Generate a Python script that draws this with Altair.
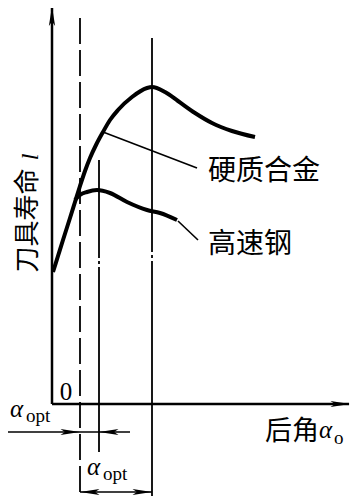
import altair as alt
import pandas as pd

# ---- data (rake angle in degrees, tool life in arbitrary units) ----
carbide_x = [0.2, 1.2, 2.2, 3.6, 4.6, 5.6, 6.6, 7.6, 8.8, 10.2, 11.6, 13.2, 16.0, 19.0, 20.0, 22.6, 25.2, 28.6, 32.0, 36.0, 40.6]
carbide_y = [33, 37, 41, 46.5, 50.5, 54.5, 58.25, 61.5, 64.75, 68, 71, 73.5, 76.75, 79, 79.25, 78, 75.75, 72.75, 70.25, 68.25, 66.75]
hss_x = [4.6, 5.6, 7.0, 9.0, 11.6, 15.0, 19.0, 21.6, 25.0]
hss_y = [51, 52.25, 53, 53.5, 52.75, 50.5, 48.5, 47.75, 46]

ref_x = [5.6, 9.4, 20.0]          # dashed ref line, HSS optimum, carbide optimum
ref_top = [96.5, 61.0, 91.5]
ref_bottom = [-25, -12, -25]

leader_x = [10.2, 25.2]
leader_y = [68, 45.75]
leader_x2 = [29.0, 29.2]
leader_y2 = [59.0, 41.0]
labels = ["硬质合金", "高速钢"]
label_x = [31.2, 31.2]
label_y = [58.1, 39.75]

# y-axis title, one character per entry (rotated, stacked bottom to top)
ytitle_chars = ["刀", "具", "寿", "命"]
ytitle_y = [36.15, 42.65, 49.15, 55.65]

X_DOM = [-8.8, 59.8]
Y_DOM = [-23, 99]

xs = alt.Scale(domain=X_DOM, nice=False, zero=False)
ys = alt.Scale(domain=Y_DOM, nice=False, zero=False)


def X(f="x"):
    return alt.X(f"{f}:Q", scale=xs, axis=None)


def Y(f="y"):
    return alt.Y(f"{f}:Q", scale=ys, axis=None)


ARROW = "M 0 0 L -2 -0.32 L -1.55 0 L -2 0.32 Z"

carbide = pd.DataFrame({"x": carbide_x, "y": carbide_y})
hss = pd.DataFrame({"x": hss_x, "y": hss_y})

curve_c = alt.Chart(carbide).mark_line(color="black", strokeWidth=4, interpolate="monotone").encode(x=X(), y=Y())
curve_h = alt.Chart(hss).mark_line(color="black", strokeWidth=4, interpolate="monotone").encode(x=X(), y=Y())

# axes lines
axes_df = pd.DataFrame({"x": [0, 0], "y": [0, 0], "x2": [0, 59.4], "y2": [99.2, 0]})
axes = alt.Chart(axes_df).mark_rule(color="black", strokeWidth=2.5).encode(
    x=X(), y=Y(), x2="x2:Q", y2="y2:Q")

heads_df = pd.DataFrame({
    "x": [0, 59.6, 5.6, 9.4, 20.0, 5.6],
    "y": [99.4, 0, -7, -7, -22, -22],
    "a": [270, 0, 0, 180, 0, 180],
})
heads = alt.Chart(heads_df).mark_point(shape=ARROW, filled=True, color="black", size=380, opacity=1,
                                       strokeWidth=0).encode(
    x=X(), y=Y(), angle=alt.Angle("a:Q", scale=None))

# reference vertical lines
ref0 = alt.Chart(pd.DataFrame({"x": [ref_x[0]], "y": [ref_top[0]], "y2": [ref_bottom[0]]})).mark_rule(
    color="black", strokeWidth=1.8, strokeDash=[26, 6]).encode(x=X(), y=Y(), y2="y2:Q")
ref1 = alt.Chart(pd.DataFrame({"x": [ref_x[1]], "y": [ref_top[1]], "y2": [ref_bottom[1]]})).mark_rule(
    color="black", strokeWidth=1.8, strokeDash=[98, 3, 3, 3, 400]).encode(x=X(), y=Y(), y2="y2:Q")
ref2 = alt.Chart(pd.DataFrame({"x": [ref_x[2]], "y": [ref_top[2]], "y2": [ref_bottom[2]]})).mark_rule(
    color="black", strokeWidth=1.8, strokeDash=[214, 3, 3, 3, 600]).encode(x=X(), y=Y(), y2="y2:Q")

# leader lines
lead = alt.Chart(pd.DataFrame({"x": leader_x, "y": leader_y, "x2": leader_x2, "y2": leader_y2})).mark_rule(
    color="black", strokeWidth=1.6).encode(x=X(), y=Y(), x2="x2:Q", y2="y2:Q")

# dimension arrows lines
dim = alt.Chart(pd.DataFrame({"x": [-9.6, 5.6], "y": [-7, -22], "x2": [15.6, 20.0], "y2": [-7, -22]})).mark_rule(
    color="black", strokeWidth=1.6).encode(x=X(), y=Y(), x2="x2:Q", y2="y2:Q")

CJK = "Noto Sans CJK SC"
SERIF = "Liberation Serif"

lab = alt.Chart(pd.DataFrame({"x": label_x, "y": label_y, "t": labels})).mark_text(
    font=CJK, fontSize=28, align="left", baseline="middle", color="black").encode(x=X(), y=Y(), text="t:N")

ylab = alt.Chart(pd.DataFrame({"x": [-4.8] * len(ytitle_chars), "y": ytitle_y, "t": ytitle_chars})).mark_text(
    font=CJK, fontSize=26, align="center", baseline="middle", angle=270, color="black").encode(
    x=X(), y=Y(), text="t:N")
ylab_l = alt.Chart(pd.DataFrame({"x": [-4.2], "y": [61.8], "t": ["l"]})).mark_text(
    font=SERIF, fontSize=24, fontStyle="italic", align="center", baseline="middle", angle=270, color="black").encode(
    x=X(), y=Y(), text="t:N")

zero = alt.Chart(pd.DataFrame({"x": [2.8], "y": [1.0], "t": ["0"]})).mark_text(
    font=SERIF, fontSize=25, align="center", baseline="alphabetic", color="black").encode(x=X(), y=Y(), text="t:N")

xlab = alt.Chart(pd.DataFrame({"x": [42.6], "y": [-7.0], "t": ["后角"]})).mark_text(
    font=CJK, fontSize=27, align="left", baseline="middle", color="black").encode(x=X(), y=Y(), text="t:N")

alpha = alt.Chart(pd.DataFrame({"x": [53.4, -8.4, 7.0], "y": [-8.5, -3.25, -17.75], "t": ["α", "α", "α"]})).mark_text(
    font=SERIF, fontSize=25, fontStyle="italic", align="left", baseline="alphabetic", color="black").encode(
    x=X(), y=Y(), text="t:N")

subs = alt.Chart(pd.DataFrame({"x": [56.4, -5.2, 10.2], "y": [-10.0, -4.5, -19.0], "t": ["o", "opt", "opt"]})).mark_text(
    font=SERIF, fontSize=19, align="left", baseline="alphabetic", color="black").encode(
    x=X(), y=Y(), text="t:N")

chart = alt.layer(
    ref0, ref1, ref2, axes, dim, lead, curve_c, curve_h, heads,
    lab, ylab, ylab_l, zero, xlab, alpha, subs
).properties(
    width=343, height=488, autosize=alt.AutoSizeParams(type="none"), padding=0, background="white"
).configure_view(stroke=None)

chart.save("out.html", embed_options={"renderer": "svg", "actions": False})
